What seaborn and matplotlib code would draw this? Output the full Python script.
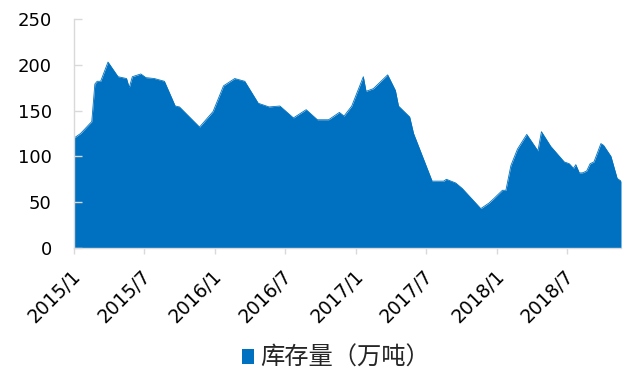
import matplotlib
matplotlib.use("Agg")
import matplotlib.pyplot as plt
import matplotlib.transforms as mtransforms
from matplotlib.patches import Patch
from matplotlib.font_manager import FontProperties
import seaborn as sns
import pandas as pd

# ---- data ----
dates = [
    "2015-01-01", "2015-01-18", "2015-02-16", "2015-02-24", "2015-03-02", "2015-03-11",
    "2015-03-30", "2015-04-25", "2015-05-17", "2015-05-24", "2015-06-01", "2015-06-23",
    "2015-07-06", "2015-07-28", "2015-08-23", "2015-09-20", "2015-10-01", "2015-11-22",
    "2015-12-27", "2016-01-23", "2016-02-21", "2016-03-18", "2016-04-22", "2016-05-20",
    "2016-06-17", "2016-07-22", "2016-08-24", "2016-09-22", "2016-10-21", "2016-11-18",
    "2016-11-30", "2016-12-20", "2017-01-19", "2017-01-26", "2017-02-14", "2017-03-23",
    "2017-04-12", "2017-04-20", "2017-05-19", "2017-05-29", "2017-07-16", "2017-08-15",
    "2017-08-22", "2017-09-15", "2017-10-02", "2017-11-19", "2017-12-10", "2017-12-23",
    "2018-01-14", "2018-01-23", "2018-02-05", "2018-02-22", "2018-03-18", "2018-04-16",
    "2018-04-25", "2018-05-19", "2018-06-23", "2018-07-06", "2018-07-17", "2018-07-23",
    "2018-08-01", "2018-08-09", "2018-08-20", "2018-08-29", "2018-09-08", "2018-09-26",
    "2018-10-03", "2018-10-22", "2018-11-07", "2018-11-17",
]
inventory = [
    120, 125, 138, 179, 182, 182,
    203, 187, 185, 175, 187, 190,
    186, 185, 182, 155, 154, 132,
    149, 177, 185, 182, 158, 154,
    155, 142, 151, 140, 140, 148,
    144, 155, 187, 171, 174, 189,
    172, 155, 143, 125, 73, 73,
    75, 71, 65, 43, 49, 54,
    63, 63, 90, 108, 124, 106,
    127, 111, 94, 92, 87, 91,
    82, 82, 84, 92, 94, 114,
    112, 100, 76, 73,
]
tick_dates = ["2015-01-01", "2015-07-01", "2016-01-01", "2016-07-01",
              "2017-01-01", "2017-07-01", "2018-01-01", "2018-07-01"]
tick_labels = ["2015/1", "2015/7", "2016/1", "2016/7",
               "2017/1", "2017/7", "2018/1", "2018/7"]
y_ticks = [0, 50, 100, 150, 200, 250]
series_name = "库存量（万吨）"

# ---- style ----
sns.set_theme(style="white")
plt.rcParams["font.family"] = ["DejaVu Sans", "Noto Sans CJK SC"]

color = "#0070C0"
grey = "#D9D9D9"

df = pd.DataFrame({"date": pd.to_datetime(dates), "value": inventory})

W, H = 623, 372
fig = plt.figure(figsize=(W / 100, H / 100), dpi=100)
ax = fig.add_axes([74 / W, 1 - 248 / H, (621 - 74) / W, (248 - 19) / H])

sns.lineplot(data=df, x="date", y="value", ax=ax, color=color, linewidth=0.6)
ax.fill_between(df["date"], df["value"], 0, color=color, linewidth=0)

ax.set_xlim(df["date"].iloc[0], df["date"].iloc[-1])
ax.set_ylim(0, 250)
ax.set_yticks(y_ticks)
ax.set_xticks(pd.to_datetime(tick_dates))
ax.set_xticklabels(tick_labels, rotation=45, ha="right", va="center",
                   rotation_mode="anchor")
ax.set_xlabel("")
ax.set_ylabel("")
ax.set_axisbelow(False)

for s in ["top", "right"]:
    ax.spines[s].set_visible(False)
for s in ["left", "bottom"]:
    ax.spines[s].set_color(grey)
    ax.spines[s].set_linewidth(1.0)

ax.tick_params(axis="y", direction="in", length=6, width=1, color=grey,
               labelsize=13, labelcolor="black", pad=16, left=True)
ax.tick_params(axis="x", direction="out", length=4, width=1, color=grey,
               labelsize=13.5, labelcolor="black", pad=14, bottom=True)

offset = mtransforms.ScaledTranslation(4 / 100, 0, fig.dpi_scale_trans)
for lab in ax.get_xticklabels():
    lab.set_transform(lab.get_transform() + offset)

handle = Patch(facecolor=color, edgecolor="none", label=series_name)
fig.legend(handles=[handle], loc="center", bbox_to_anchor=(336 / W, 1 - 358 / H),
           frameon=False, handlelength=0.5, handleheight=0.55, handletextpad=0.25,
           borderpad=0, prop=FontProperties(family=["Noto Sans CJK SC"], size=17.5))

fig.savefig("out.png", dpi=100)
